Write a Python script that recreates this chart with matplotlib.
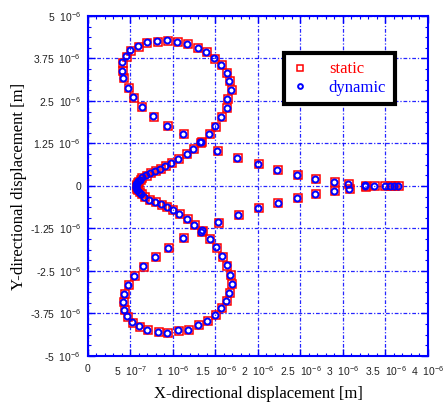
import matplotlib
matplotlib.use("Agg")
import matplotlib.pyplot as plt
from matplotlib.ticker import MultipleLocator, FixedLocator, FixedFormatter

plt.rcParams['mathtext.fontset'] = 'custom'
plt.rcParams['mathtext.rm'] = 'Liberation Sans'
plt.rcParams['mathtext.it'] = 'Liberation Sans:italic'
plt.rcParams['mathtext.bf'] = 'Liberation Sans:bold'

SCALE = 1e-6  # values below are in units of 1e-6 m

static_x = [3.66, 3.61, 3.56, 3.50, 3.38, 3.27, 3.07, 2.91, 2.68, 2.47, 2.23, 2.01, 1.76, 1.53, 1.33,
            1.13, 0.94, 0.78, 0.64, 0.54, 0.48, 0.42, 0.41, 0.41, 0.46, 0.51, 0.60, 0.70, 0.82, 0.94,
            1.06, 1.18, 1.30, 1.40, 1.49, 1.58, 1.64, 1.67, 1.69, 1.65, 1.64, 1.58, 1.51, 1.43, 1.34,
            1.25, 1.17, 1.07, 0.99, 0.92, 0.855, 0.80, 0.74, 0.69, 0.64, 0.62, 0.60, 0.59, 0.58, 0.575,
            0.575, 0.58, 0.59, 0.61, 0.63, 0.67, 0.73, 0.80, 0.87, 0.935, 1.005, 1.08, 1.175, 1.26, 1.34,
            1.44, 1.52, 1.59, 1.64, 1.68, 1.70, 1.67, 1.63, 1.58, 1.51, 1.41, 1.31, 1.19, 1.07, 0.94,
            0.83, 0.71, 0.61, 0.53, 0.47, 0.43, 0.42, 0.43, 0.48, 0.55, 0.66, 0.80, 0.95, 1.13, 1.35,
            1.54, 1.78, 2.01, 2.24, 2.47, 2.68, 2.91, 3.08, 3.27]
static_y = [0.00, 0.00, 0.00, 0.00, 0.00, 0.01, 0.06, 0.11, 0.21, 0.31, 0.46, 0.64, 0.81, 1.03, 1.27,
            1.52, 1.76, 2.04, 2.31, 2.60, 2.87, 3.17, 3.38, 3.63, 3.80, 3.98, 4.10, 4.22, 4.24, 4.27,
            4.23, 4.18, 4.06, 3.94, 3.74, 3.55, 3.31, 3.09, 2.82, 2.56, 2.28, 2.02, 1.74, 1.52, 1.29,
            1.08, 0.93, 0.78, 0.68, 0.59, 0.50, 0.44, 0.37, 0.30, 0.24, 0.18, 0.13, 0.08, 0.04, 0.00,
            -0.04, -0.08, -0.13, -0.19, -0.25, -0.33, -0.41, -0.48, -0.55, -0.62, -0.72, -0.82, -0.97, -1.16, -1.35,
            -1.57, -1.81, -2.08, -2.34, -2.62, -2.89, -3.16, -3.38, -3.60, -3.79, -3.98, -4.10, -4.24, -4.26, -4.33,
            -4.29, -4.24, -4.14, -4.02, -3.84, -3.65, -3.42, -3.19, -2.91, -2.65, -2.37, -2.10, -1.83, -1.54, -1.31,
            -1.08, -0.85, -0.66, -0.51, -0.36, -0.25, -0.15, -0.10, -0.02]

dynamic_x = [3.65, 3.60, 3.55, 3.49, 3.37, 3.26, 3.06, 2.90, 2.67, 2.46, 2.22, 2.00, 1.75, 1.52, 1.32,
             1.12, 0.93, 0.77, 0.63, 0.53, 0.47, 0.41, 0.40, 0.40, 0.45, 0.50, 0.59, 0.69, 0.81, 0.93,
             1.05, 1.17, 1.29, 1.39, 1.48, 1.57, 1.63, 1.66, 1.68, 1.64, 1.63, 1.57, 1.50, 1.42, 1.33,
             1.24, 1.16, 1.06, 0.98, 0.91, 0.845, 0.79, 0.73, 0.68, 0.63, 0.61, 0.59, 0.58, 0.57, 0.565,
             0.565, 0.57, 0.58, 0.60, 0.62, 0.66, 0.72, 0.79, 0.86, 0.925, 0.995, 1.07, 1.165, 1.25, 1.33,
             1.43, 1.51, 1.58, 1.63, 1.67, 1.69, 1.66, 1.62, 1.57, 1.50, 1.40, 1.30, 1.18, 1.06, 0.93,
             0.82, 0.70, 0.60, 0.52, 0.46, 0.42, 0.41, 0.42, 0.47, 0.54, 0.65, 0.79, 0.94, 1.12, 1.34,
             1.53, 1.77, 2.00, 2.23, 2.46, 2.67, 2.90, 3.07, 3.26]
dynamic_y = [0.01, 0.01, 0.01, 0.01, 0.01, 0.02, 0.07, 0.12, 0.22, 0.32, 0.47, 0.65, 0.82, 1.04, 1.28,
             1.53, 1.77, 2.05, 2.32, 2.61, 2.88, 3.18, 3.39, 3.64, 3.81, 3.99, 4.11, 4.23, 4.25, 4.28,
             4.24, 4.19, 4.07, 3.95, 3.75, 3.56, 3.32, 3.10, 2.83, 2.57, 2.29, 2.03, 1.75, 1.53, 1.30,
             1.09, 0.94, 0.79, 0.69, 0.60, 0.51, 0.45, 0.38, 0.31, 0.25, 0.19, 0.14, 0.09, 0.05, 0.01,
             -0.03, -0.07, -0.12, -0.18, -0.24, -0.32, -0.40, -0.47, -0.54, -0.61, -0.71, -0.81, -0.96, -1.15, -1.34,
             -1.56, -1.80, -2.07, -2.33, -2.61, -2.88, -3.15, -3.37, -3.59, -3.78, -3.97, -4.09, -4.23, -4.25, -4.32,
             -4.28, -4.23, -4.13, -4.01, -3.83, -3.64, -3.41, -3.18, -2.90, -2.64, -2.36, -2.09, -1.82, -1.53, -1.30,
             -1.07, -0.84, -0.65, -0.50, -0.35, -0.24, -0.14, -0.09, -0.01]

x_ticks = [0, 0.5, 1.0, 1.5, 2.0, 2.5, 3.0, 3.5, 4.0]
x_tick_labels = ['0', r'5  10$^{-7}$', r'1  10$^{-6}$', r'1.5  10$^{-6}$', r'2  10$^{-6}$',
                 r'2.5  10$^{-6}$', r'3  10$^{-6}$', r'3.5  10$^{-6}$', r'4  10$^{-6}$']
y_ticks = [-5, -3.75, -2.5, -1.25, 0, 1.25, 2.5, 3.75, 5]
y_tick_labels = [r'-5  10$^{-6}$', r'-3.75  10$^{-6}$', r'-2.5  10$^{-6}$', r'-1.25  10$^{-6}$', '0',
                 r'1.25  10$^{-6}$', r'2.5  10$^{-6}$', r'3.75  10$^{-6}$', r'5  10$^{-6}$']

fig = plt.figure(figsize=(4.43, 4.05), dpi=100)
ax = fig.add_axes([0.1986, 0.121, 0.7675, 0.8395])

sx = [v * SCALE for v in static_x]
sy = [v * SCALE for v in static_y]
dx = [v * SCALE for v in dynamic_x]
dy = [v * SCALE for v in dynamic_y]

ax.plot(sx, sy, linestyle='none', marker='s', ms=5.2, mfc='none', mec='red', mew=1.1, label='static', zorder=3)
ax.plot(dx, dy, linestyle='none', marker='o', ms=4.3, mfc='none', mec='blue', mew=1.4, label='dynamic', zorder=4)

ax.set_xlim(0, 4 * SCALE)
ax.set_ylim(-5 * SCALE, 5 * SCALE)

ax.xaxis.set_major_locator(FixedLocator([v * SCALE for v in x_ticks]))
ax.xaxis.set_major_formatter(FixedFormatter(x_tick_labels))
ax.yaxis.set_major_locator(FixedLocator([v * SCALE for v in y_ticks]))
ax.yaxis.set_major_formatter(FixedFormatter(y_tick_labels))
ax.xaxis.set_minor_locator(MultipleLocator(0.1 * SCALE))
ax.yaxis.set_minor_locator(MultipleLocator(0.3125 * SCALE))

ax.tick_params(which='both', direction='in', top=True, right=True, color='blue',
               labelsize=7.5, labelcolor='#222222')
ax.tick_params(which='major', length=5, width=1.0)
ax.tick_params(which='minor', length=2.5, width=0.8)
ax.tick_params(axis='x', which='major', pad=6)
ax.tick_params(axis='y', which='major', pad=5)
for lab in ax.get_xticklabels() + ax.get_yticklabels():
    lab.set_fontfamily('Liberation Sans')

for sp in ax.spines.values():
    sp.set_color('blue')
    sp.set_linewidth(1.5)

ax.grid(True, which='major', color='blue', linewidth=0.9, alpha=0.85, dashes=(3, 1.5, 1, 1.5))

ax.set_xlabel('X-directional displacement [m]', family='Liberation Serif', fontsize=12)
ax.set_ylabel('Y-directional displacement [m]', family='Liberation Serif', fontsize=12)
ax.xaxis.set_label_coords(0.5, -0.088)
ax.yaxis.set_label_coords(-0.18, 0.5)

leg = ax.legend(loc='upper left', bbox_to_anchor=(0.576, 0.891), borderaxespad=0,
                prop={'family': 'Liberation Serif', 'size': 12}, fancybox=False, framealpha=1,
                edgecolor='black', handlelength=1.0, handletextpad=1.2, borderpad=0.5,
                labelspacing=0.15, markerscale=0.8)
leg.get_frame().set_linewidth(3)
for txt, c in zip(leg.get_texts(), ['red', 'blue']):
    txt.set_color(c)

fig.savefig('out.png', dpi=100)
